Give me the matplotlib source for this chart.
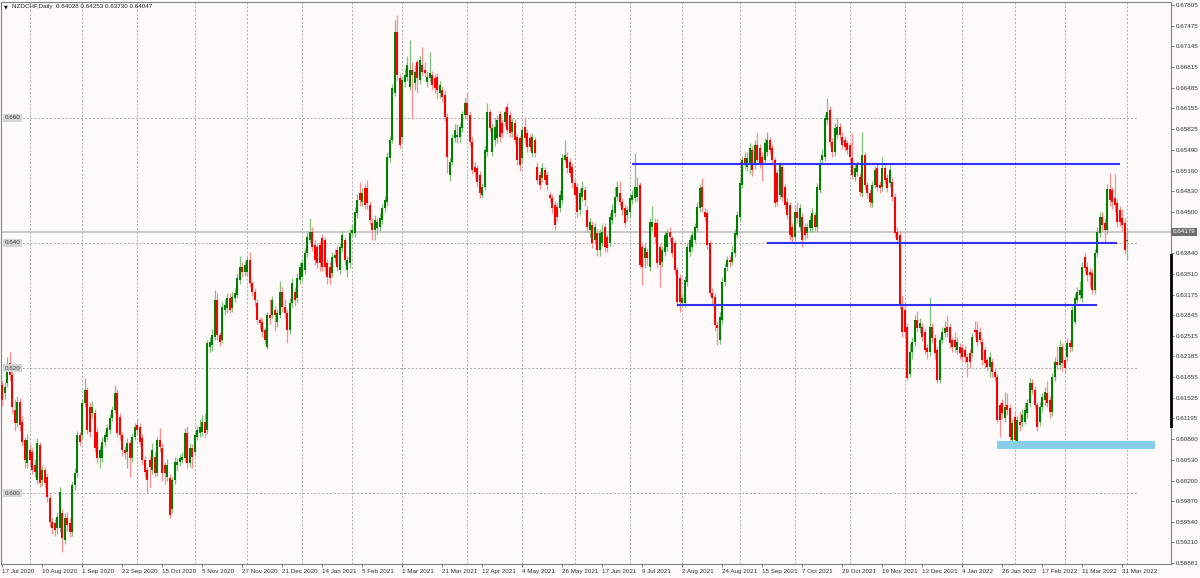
import matplotlib
matplotlib.use("Agg")
import matplotlib.pyplot as plt
import matplotlib.transforms as mtransforms
from matplotlib.patches import Rectangle

# ---------------- data (prices in pips, 1 pip = 0.0001) ----------------
opens = [
 6173,6160,6176,6208,6189,6133,6112,6146,6114,6085, 6048,6069,6066,6045,6021,6077,6021,6037,6026,5992,
 5954,5952,5944,5944,5968,5925,5960,5952,5938,6013, 6032,6093,6093,6144,6165,6138,6128,6128,6098,6056,
 6056,6082,6090,6101,6120,6133,6160,6122,6093,6069, 6066,6080,6056,6090,6109,6106,6088,6053,6037,6053,
 6037,6058,6032,6085,6072,6045,6026,6024,5975,6021, 6045,6050,6053,6056,6096,6048,6072,6066,6090,6096,
 6098,6114,6101,6234,6237,6250,6309,6253,6245,6293, 6296,6312,6296,6312,6317,6341,6362,6354,6354,6373,
 6336,6322,6304,6277,6274,6261,6234,6285,6285,6293, 6274,6285,6322,6298,6288,6261,6304,6322,6312,6341,
 6346,6357,6384,6405,6418,6397,6394,6397,6408,6405, 6368,6362,6352,6376,6389,6357,6392,6405,6357,6368,
 6416,6416,6448,6480,6466,6488,6488,6461,6432,6421, 6424,6426,6437,6456,6466,6536,6565,6640,6738,6664,
 6570,6658,6666,6650,6677,6656,6690,6661,6685,6677, 6658,6664,6669,6664,6666,6640,6645,6637,6602,6509,
 6530,6568,6570,6570,6584,6605,6624,6605,6562,6522, 6520,6509,6477,6490,6546,6610,6546,6565,6568,6607,
 6592,6594,6618,6605,6578,6592,6570,6568,6536,6586, 6576,6568,6544,6565,6522,6509,6504,6517,6509,6477,
 6472,6461,6458,6456,6469,6533,6538,6530,6522,6496, 6490,6453,6474,6485,6453,6421,6429,6405,6416,6389,
 6400,6426,6410,6400,6437,6448,6474,6480,6466,6456, 6445,6450,6469,6472,6474,6493,6394,6376,6386,6362,
 6426,6432,6432,6394,6370,6386,6394,6418,6408,6400, 6357,6344,6304,6304,6338,6386,6394,6405,6424,6456,
 6490,6450,6448,6400,6320,6314,6269,6245,6277,6338, 6362,6373,6370,6384,6413,6442,6493,6536,6522,6525,
 6549,6525,6557,6552,6538,6533,6546,6565,6552,6533, 6512,6477,6522,6490,6466,6461,6426,6410,6450,6426,
 6442,6426,6416,6424,6424,6445,6426,6485,6533,6538, 6597,6613,6562,6546,6573,6586,6570,6565,6560,6557,
 6536,6506,6514,6506,6480,6541,6493,6480,6464,6493, 6520,6493,6490,6520,6504,6496,6498,6474,6418,6413,
 6298,6293,6266,6190,6226,6242,6277,6264,6266,6258, 6232,6226,6266,6248,6229,6181,6245,6256,6266,6266,
 6245,6245,6229,6234,6232,6229,6218,6224,6224,6261, 6261,6258,6242,6229,6213,6202,6210,6194,6186,6141,
 6144,6120,6141,6136,6085,6122,6080,6114,6114,6114, 6128,6144,6176,6165,6141,6114,6138,6149,6160,6149,
 6130,6186,6210,6205,6234,6213,6218,6240,6234,6274, 6309,6317,6312,6378,6362,6354,6352,6325,6384,6416,
 6442,6432,6421,6487,6485,6472,6464,6453,6440,6432, 6403]

highs = [
 6180,6178,6218,6226,6196,6150,6155,6152,6125,6090, 6095,6078,6072,6055,6088,6082,6045,6042,6032,5998,
 5960,5958,5970,6010,5975,5968,5970,5960,6020,6040, 6100,6098,6150,6184,6170,6145,6148,6135,6105,6075,
 6090,6100,6110,6126,6140,6173,6166,6128,6098,6075, 6088,6085,6096,6112,6120,6112,6095,6060,6042,6060,
 6080,6065,6090,6104,6080,6050,6055,6030,6026,6058, 6056,6062,6065,6104,6108,6080,6078,6098,6108,6118,
 6125,6128,6245,6250,6262,6325,6320,6258,6305,6310, 6320,6320,6322,6328,6352,6380,6370,6372,6380,6386,
 6340,6328,6310,6282,6280,6266,6290,6310,6316,6300, 6295,6340,6330,6310,6295,6312,6344,6330,6352,6370,
 6375,6392,6418,6440,6425,6405,6400,6404,6415,6410, 6375,6370,6385,6390,6395,6400,6420,6410,6380,6422,
 6430,6458,6478,6498,6488,6495,6501,6468,6440,6445, 6440,6448,6462,6475,6545,6572,6655,6757,6765,6670,
 6666,6680,6700,6725,6690,6685,6695,6700,6714,6690, 6675,6705,6676,6670,6672,6660,6652,6645,6608,6536,
 6574,6590,6590,6592,6612,6632,6642,6612,6570,6530, 6525,6515,6496,6555,6624,6615,6590,6600,6605,6612,
 6598,6618,6624,6612,6600,6598,6575,6572,6588,6602, 6582,6574,6576,6570,6530,6515,6528,6522,6515,6482,
 6478,6468,6465,6485,6542,6565,6545,6536,6528,6502, 6496,6488,6500,6492,6460,6440,6436,6432,6422,6422,
 6430,6432,6415,6448,6462,6490,6500,6500,6472,6462, 6460,6480,6485,6544,6505,6498,6400,6400,6392,6440,
 6460,6440,6438,6400,6395,6420,6422,6426,6412,6405, 6362,6350,6320,6348,6400,6412,6420,6432,6465,6495,
 6504,6458,6455,6405,6328,6320,6275,6290,6345,6368, 6380,6380,6395,6422,6452,6502,6540,6546,6545,6560,
 6555,6565,6576,6558,6545,6568,6578,6570,6558,6538, 6518,6530,6528,6496,6472,6466,6432,6460,6466,6462,
 6448,6432,6432,6445,6456,6450,6496,6534,6550,6606, 6632,6620,6568,6592,6600,6592,6578,6572,6565,6562,
 6576,6528,6532,6512,6578,6546,6498,6486,6500,6524, 6528,6500,6538,6526,6510,6525,6505,6480,6425,6420,
 6317,6300,6272,6240,6250,6285,6292,6280,6272,6264, 6238,6314,6272,6254,6235,6250,6265,6275,6285,6272,
 6250,6258,6250,6240,6238,6236,6224,6230,6256,6276, 6276,6265,6248,6235,6218,6225,6216,6200,6190,6146,
 6150,6162,6160,6142,6118,6130,6124,6130,6135,6145, 6150,6184,6182,6172,6146,6146,6160,6170,6180,6155,
 6192,6218,6235,6245,6240,6220,6248,6245,6300,6320, 6330,6340,6370,6384,6370,6360,6358,6390,6425,6450,
 6450,6440,6495,6512,6490,6510,6470,6460,6455,6440, 6425]

lows = [
 6140,6150,6170,6180,6128,6100,6105,6100,6075,6040, 6040,6045,6030,6025,6015,6010,6012,6008,5985,5945,
 5935,5932,5935,5938,5906,5918,5940,5930,5932,6005, 6025,6075,6085,6138,6095,6090,6120,6065,6048,6040,
 6050,6075,6085,6095,6115,6128,6090,6085,6060,6055, 6040,6025,6050,6085,6095,6075,6045,6025,6000,6010,
 6030,6025,6028,6065,6020,6015,6020,5960,5968,6015, 6035,6044,6048,6050,6040,6042,6040,6060,6085,6090,
 6092,6090,6095,6225,6228,6245,6245,6235,6240,6285, 6290,6288,6290,6305,6312,6335,6345,6348,6348,6330,
 6315,6300,6270,6262,6250,6238,6230,6270,6280,6260, 6265,6280,6290,6280,6240,6255,6298,6300,6305,6335,
 6340,6350,6378,6400,6388,6365,6360,6355,6355,6350, 6335,6335,6345,6370,6355,6350,6385,6365,6345,6360,
 6410,6410,6440,6460,6460,6455,6455,6430,6405,6405, 6415,6420,6430,6450,6460,6530,6560,6635,6660,6552,
 6562,6650,6660,6645,6600,6645,6640,6655,6668,6665, 6650,6658,6645,6640,6630,6632,6625,6596,6512,6500,
 6525,6562,6560,6560,6578,6598,6598,6555,6510,6505, 6490,6472,6472,6485,6540,6578,6540,6555,6560,6562,
 6570,6588,6575,6570,6570,6558,6525,6515,6530,6560, 6545,6548,6538,6538,6495,6486,6498,6494,6485,6465,
 6448,6421,6435,6450,6462,6530,6512,6505,6488,6470, 6442,6445,6468,6460,6418,6410,6392,6398,6380,6380,
 6395,6385,6385,6395,6430,6442,6468,6460,6445,6425, 6435,6440,6462,6465,6468,6360,6333,6360,6365,6355,
 6420,6400,6360,6330,6362,6380,6388,6402,6378,6350, 6300,6290,6298,6298,6332,6380,6388,6400,6418,6450,
 6450,6435,6390,6315,6300,6260,6237,6238,6270,6332, 6355,6362,6365,6378,6408,6436,6488,6518,6515,6510,
 6508,6518,6528,6520,6500,6528,6540,6542,6525,6458, 6460,6470,6468,6455,6438,6405,6402,6405,6432,6420,
 6394,6405,6408,6418,6418,6420,6420,6480,6528,6532, 6590,6555,6538,6540,6566,6565,6550,6548,6542,6530,
 6502,6500,6508,6475,6474,6486,6472,6458,6458,6488, 6484,6480,6484,6495,6482,6490,6468,6410,6398,6295,
 6250,6248,6181,6185,6215,6236,6258,6256,6244,6222, 6215,6220,6240,6215,6176,6176,6240,6250,6250,6232,
 6226,6226,6222,6215,6210,6208,6185,6200,6218,6250, 6235,6238,6205,6200,6195,6185,6185,6180,6112,6090,
 6120,6114,6125,6085,6080,6078,6074,6100,6105,6110, 6120,6138,6158,6135,6100,6108,6130,6140,6138,6120,
 6124,6180,6198,6198,6195,6190,6212,6226,6228,6270, 6304,6310,6305,6352,6340,6330,6318,6318,6378,6410,
 6420,6400,6415,6460,6455,6450,6425,6428,6420,6383, 6373]

closes = [
 6149,6170,6202,6189,6138,6112,6146,6109,6082,6053, 6085,6053,6037,6034,6080,6016,6037,6016,5994,5954,
 5944,5941,5962,6002,5928,5960,5949,5938,6013,6032, 6093,6082,6144,6165,6101,6098,6138,6072,6056,6069,
 6082,6093,6104,6120,6133,6160,6096,6093,6069,6064, 6080,6056,6090,6106,6101,6082,6053,6034,6021,6042,
 6069,6032,6085,6074,6032,6032,6045,5965,6021,6050, 6050,6056,6058,6096,6048,6072,6058,6093,6101,6106,
 6114,6096,6240,6242,6253,6309,6253,6242,6298,6301, 6312,6293,6314,6320,6344,6362,6354,6365,6373,6336,
 6322,6309,6277,6272,6258,6245,6285,6280,6309,6285, 6288,6322,6298,6288,6261,6304,6336,6309,6344,6362,
 6368,6384,6410,6418,6394,6373,6368,6368,6362,6362, 6346,6344,6378,6381,6362,6394,6413,6373,6373,6416,
 6421,6450,6469,6469,6480,6461,6464,6437,6421,6437, 6434,6440,6456,6469,6538,6565,6648,6738,6669,6557,
 6661,6669,6685,6677,6669,6674,6664,6693,6674,6672, 6666,6672,6653,6648,6645,6653,6634,6602,6538,6530,
 6568,6581,6573,6586,6607,6624,6605,6562,6517,6514, 6498,6480,6490,6549,6610,6584,6584,6586,6597,6570,
 6576,6610,6581,6576,6594,6565,6533,6525,6581,6568, 6554,6554,6570,6544,6501,6493,6520,6501,6493,6472,
 6456,6429,6442,6477,6536,6541,6520,6512,6496,6477, 6450,6480,6488,6469,6426,6434,6400,6426,6389,6416,
 6418,6394,6392,6442,6453,6474,6490,6466,6453,6432, 6453,6472,6477,6490,6490,6365,6362,6392,6376,6434,
 6434,6410,6368,6365,6389,6413,6416,6410,6384,6357, 6306,6306,6312,6341,6394,6405,6413,6426,6458,6488,
 6458,6442,6397,6320,6312,6269,6264,6282,6338,6360, 6373,6370,6386,6416,6445,6496,6533,6525,6536,6552,
 6517,6557,6533,6528,6528,6560,6565,6549,6533,6464, 6466,6525,6474,6461,6445,6413,6410,6450,6440,6456,
 6405,6413,6426,6437,6448,6426,6490,6528,6541,6600, 6610,6562,6546,6584,6586,6573,6557,6554,6549,6538,
 6509,6520,6525,6482,6541,6493,6480,6466,6493,6517, 6490,6488,6520,6501,6488,6517,6474,6416,6405,6300,
 6258,6258,6184,6226,6242,6277,6264,6272,6250,6229, 6226,6266,6248,6224,6181,6245,6258,6264,6258,6240,
 6234,6234,6242,6224,6218,6218,6210,6210,6250,6258, 6242,6245,6213,6208,6202,6218,6194,6186,6117,6117,
 6128,6138,6133,6090,6112,6085,6117,6109,6125,6133, 6144,6176,6165,6141,6106,6138,6154,6162,6144,6130,
 6186,6210,6205,6234,6208,6200,6240,6234,6293,6312, 6322,6325,6362,6360,6349,6349,6325,6384,6418,6442,
 6429,6421,6487,6469,6466,6461,6434,6434,6429,6389, 6405]

date_labels = ["17 Jul 2020", "10 Aug 2020", "1 Sep 2020", "23 Sep 2020", "15 Oct 2020",
               "5 Nov 2020", "27 Nov 2020", "21 Dec 2020", "14 Jan 2021", "5 Feb 2021",
               "1 Mar 2021", "21 Mar 2021", "12 Apr 2021", "4 May 2021", "26 May 2021",
               "17 Jun 2021", "9 Jul 2021", "2 Aug 2021", "24 Aug 2021", "15 Sep 2021",
               "7 Oct 2021", "29 Oct 2021", "19 Nov 2021", "13 Dec 2021", "4 Jan 2022",
               "26 Jan 2022", "17 Feb 2022", "11 Mar 2022", "31 Mar 2022"]
bars_per_label = 16
month_start_bars = [11, 32, 54, 77, 98, 120, 140, 160, 186, 208, 229, 251, 272, 295,
                    317, 339, 361, 384, 405, 425, 450]

price_ticks = [0.67805, 0.67475, 0.67145, 0.66815, 0.66485, 0.66155, 0.65825, 0.65490,
               0.65160, 0.64830, 0.64500, 0.63840, 0.63510, 0.63175, 0.62845, 0.62515,
               0.62185, 0.61855, 0.61525, 0.61195, 0.60860, 0.60530, 0.60200, 0.59870,
               0.59540, 0.59210, 0.58881]
grid_levels = [0.600, 0.620, 0.640, 0.660]
current_price = 0.64179
header_text = "NZDCHF,Daily  0.64028 0.64253 0.63730 0.64047"

# drawn support / resistance lines: level, first bar, last bar
level_values = [0.6526, 0.6400, 0.6301]
level_start = [252, 306, 270]
level_end = [447, 446, 438]
zone_bars = [398, 461]
zone_prices = [0.6070, 0.6083]

# ---------------- style ----------------
BG = "#fffafa"
GREEN, RED = "#008000", "#ff0000"
GREEN_W, RED_W = "#7fc07f", "#ff8c8c"
GRID = "#a8a8a8"
FONT = ["Liberation Sans", "DejaVu Sans"]
FS = 4.5

W, H = 1200, 578
fig = plt.figure(figsize=(W / 100, H / 100), dpi=100, facecolor=BG)
left_px, right_px, top_px, bot_px = 1, 1171, 1.5, 564
ax = fig.add_axes([left_px / W, (H - bot_px) / H, (right_px - left_px) / W, (bot_px - top_px) / H])
ax.set_facecolor(BG)

n = len(closes)
xs = list(range(n))
o = [v / 10000 for v in opens]
c = [v / 10000 for v in closes]
hi = [v / 10000 for v in highs]
lo = [v / 10000 for v in lows]

# grid
for b in month_start_bars:
    ax.axvline(b, color=GRID, lw=0.7, ls=(0, (2, 2)), zorder=0)
for g in grid_levels:
    ax.plot([-1, 454.5], [g, g], color=GRID, lw=0.7, ls=(0, (2, 2)), zorder=0)

ax.axhline(current_price, color="#c4c4c4", lw=1.3, zorder=1)

# candles
up = [ci >= oi for oi, ci in zip(o, c)]
wick_lo = [min(l, oi, ci) for l, oi, ci in zip(lo, o, c)]
wick_hi = [max(h, oi, ci) for h, oi, ci in zip(hi, o, c)]
ax.vlines(xs, wick_lo, wick_hi, colors=[GREEN_W if u else RED_W for u in up], lw=0.9, zorder=2)
bottoms = [min(oi, ci) for oi, ci in zip(o, c)]
heights = [max(abs(ci - oi), 0.00003) for oi, ci in zip(o, c)]
ax.bar(xs, heights, bottom=bottoms, width=0.8, color=[GREEN if u else RED for u in up],
       linewidth=0, zorder=3)

# annotations
for lv, s, e in zip(level_values, level_start, level_end):
    ax.plot([s, e], [lv, lv], color="#3030ff", lw=1.5, zorder=4, solid_capstyle="butt")
ax.add_patch(Rectangle((zone_bars[0], zone_prices[0]), zone_bars[1] - zone_bars[0],
                       zone_prices[1] - zone_prices[0], facecolor="#87ceeb", edgecolor="none", zorder=4))

ax.set_xlim(-0.4, 467.6)
ax.set_ylim(0.58864, 0.67864)

# axes styling
for sp in ax.spines.values():
    sp.set_color("#808080")
    sp.set_linewidth(0.8)

ax.yaxis.tick_right()
ax.set_yticks(price_ticks)
ax.set_yticklabels([f"{p:.5f}" for p in price_ticks], fontsize=FS, family=FONT, color="#303030")
ax.tick_params(axis="y", length=2, width=0.6, color="#606060", pad=1.5)

ax.set_xticks([i * bars_per_label for i in range(len(date_labels))])
ax.set_xticklabels(date_labels, fontsize=FS, family=FONT, color="#303030", ha="left")
ax.tick_params(axis="x", length=2.5, width=0.6, color="#606060", pad=1.2)

# left inside level labels
tr = mtransforms.blended_transform_factory(ax.transAxes, ax.transData)
for g in grid_levels:
    ax.text(3.5 / 1170, g, f"{g:.3f}", transform=tr, fontsize=FS, family=FONT, color="#404040",
            va="center", ha="left", zorder=6,
            bbox=dict(boxstyle="square,pad=0.25", fc="#d4d4d4", ec="none"))

# current price box on the right axis
ax.text(1.0015, current_price, f"{current_price:.5f}", transform=tr, fontsize=FS, family=FONT,
        color="white", va="center", ha="left", zorder=7, clip_on=False,
        bbox=dict(boxstyle="square,pad=0.25", fc="#6e6e6e", ec="none"))

# black scale marker on right axis
ax.plot([1, 1], [0.61072, 0.63808], transform=tr, color="black", lw=2.0, clip_on=False, zorder=8)

# header
fig.text(4 / W, 1 - 6.5 / H, "\u25bc", fontsize=3.5, family=["DejaVu Sans"], color="black",
         va="center", ha="left")
fig.text(12 / W, 1 - 6.5 / H, header_text, fontsize=FS, family=FONT, color="#202020",
         va="center", ha="left")

fig.savefig("out.png", dpi=100, facecolor=BG)
